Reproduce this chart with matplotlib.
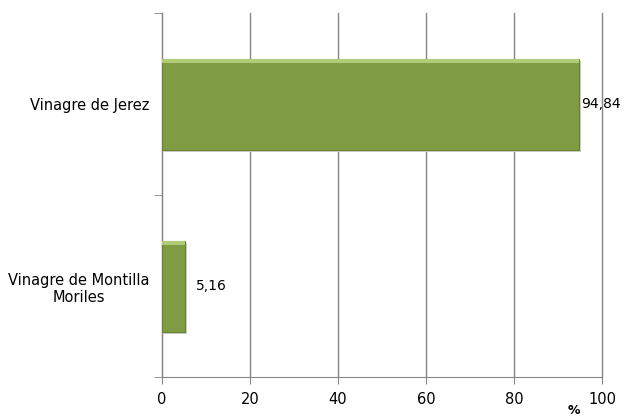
import matplotlib
matplotlib.use('Agg')
import matplotlib.pyplot as plt
import numpy as np

# data
categories = ['Vinagre de Montilla\nMoriles', 'Vinagre de Jerez']
values = [5.16, 94.84]
value_labels = ['5,16', '94,84']
xticks = [0, 20, 40, 60, 80, 100]

fig = plt.figure(figsize=(6.24, 4.17), dpi=100)
ax = fig.add_axes([162 / 624, 1 - 377 / 417, 440 / 624, 364 / 417])

pos = np.arange(len(categories))
# shadow, body and a light top bevel
ax.barh(pos - 0.015, values, height=0.5, left=0.5, color='#cfcfcf', zorder=2)
ax.barh(pos, values, height=0.5, color='#7f9c45', edgecolor='#67832f', linewidth=0.8, zorder=3)
ax.barh(pos + 0.235, values, height=0.022, color='#b0cc78', linewidth=0, zorder=4)

offsets = [8, 1.5]
for p, v, lab, off in zip(pos, values, value_labels, offsets):
    ax.annotate(lab, (v, p), xytext=(off, 0), textcoords='offset points',
                ha='left', va='center', fontsize=10, color='black', zorder=5)

ax.set_xlim(0, 100)
ax.set_ylim(-0.5, 1.5)
ax.set_xticks(xticks)
ax.set_xticklabels([str(t) for t in xticks], fontsize=10.5)
ax.set_yticks(pos)
ax.set_yticklabels(categories, fontsize=10.5, multialignment='center')
ax.set_yticks([-0.5, 0.5, 1.5], minor=True)
ax.tick_params(axis='y', which='major', length=0, pad=9)
ax.tick_params(axis='y', which='minor', length=6, color='#868686')
ax.tick_params(axis='x', length=5, color='#868686', pad=6)

ax.grid(axis='x', color='#868686', linewidth=1, zorder=0)
for gl in ax.get_xgridlines():
    gl.set_clip_on(False)
ax.set_axisbelow(True)
for s in ['top', 'right']:
    ax.spines[s].set_visible(False)
for s in ['left', 'bottom']:
    ax.spines[s].set_color('#868686')

fig.text(574 / 624, 1 - 410 / 417, '%', fontsize=9, fontweight='bold', ha='center', va='center')

fig.savefig('out.png', dpi=100)
